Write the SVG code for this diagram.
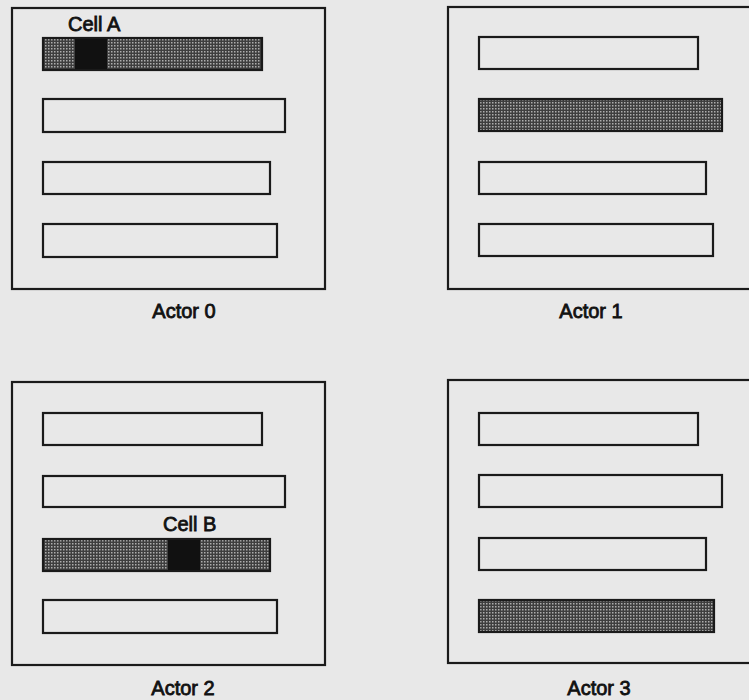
<svg xmlns="http://www.w3.org/2000/svg" width="749" height="700" viewBox="0 0 749 700">
  <style>
    .frame { fill: none; stroke: #1a1a1a; stroke-width: 2.2; }
    .bar { fill: none; stroke: #1a1a1a; stroke-width: 2.2; }
    .shaded { fill: url(#dots); stroke: #1a1a1a; stroke-width: 2.2; }
    .hot { fill: #111; stroke: none; }
    .lbl { font-family: "Liberation Sans", Arial, Helvetica, sans-serif; font-size: 20px; fill: #111; stroke: #111; stroke-width: 0.8; }
  </style>
  <defs>
    <pattern id="dots" width="3" height="3" patternUnits="userSpaceOnUse">
      <rect width="3" height="3" fill="#3e3e3e"/>
      <rect x="0" y="0" width="1.5" height="1.5" fill="#adadad"/>
    </pattern>
  </defs>
  <rect width="749" height="700" fill="#e8e8e8"/>

  <g id="actor0">
    <rect class="frame" x="12" y="8" width="313" height="281"/>
    <text class="lbl" x="68" y="31">Cell A</text>
    <rect class="shaded" x="43" y="38" width="219" height="32"/>
    <rect class="hot" x="75" y="39" width="32" height="30"/>
    <rect class="bar" x="43" y="99" width="242" height="33"/>
    <rect class="bar" x="43" y="162" width="227" height="32"/>
    <rect class="bar" x="43" y="224" width="234" height="33"/>
    <text class="lbl" x="184" y="318" text-anchor="middle">Actor 0</text>
  </g>

  <g id="actor1">
    <rect class="frame" x="448" y="7" width="310" height="282"/>
    <rect class="bar" x="479" y="37" width="219" height="32"/>
    <rect class="shaded" x="479" y="99" width="243" height="32"/>
    <rect class="bar" x="479" y="162" width="227" height="32"/>
    <rect class="bar" x="479" y="224" width="234" height="32"/>
    <text class="lbl" x="591" y="318" text-anchor="middle">Actor 1</text>
  </g>

  <g id="actor2">
    <rect class="frame" x="12" y="382" width="313" height="283"/>
    <rect class="bar" x="43" y="413" width="219" height="32"/>
    <rect class="bar" x="43" y="476" width="242" height="31"/>
    <text class="lbl" x="163" y="531">Cell B</text>
    <rect class="shaded" x="43" y="539" width="227" height="32"/>
    <rect class="hot" x="168" y="540" width="32" height="30"/>
    <rect class="bar" x="43" y="600" width="234" height="33"/>
    <text class="lbl" x="183" y="695" text-anchor="middle">Actor 2</text>
  </g>

  <g id="actor3">
    <rect class="frame" x="448" y="380" width="310" height="283"/>
    <rect class="bar" x="479" y="413" width="219" height="32"/>
    <rect class="bar" x="479" y="475" width="243" height="32"/>
    <rect class="bar" x="479" y="538" width="227" height="32"/>
    <rect class="shaded" x="479" y="600" width="235" height="32"/>
    <text class="lbl" x="599" y="695" text-anchor="middle">Actor 3</text>
  </g>
</svg>
